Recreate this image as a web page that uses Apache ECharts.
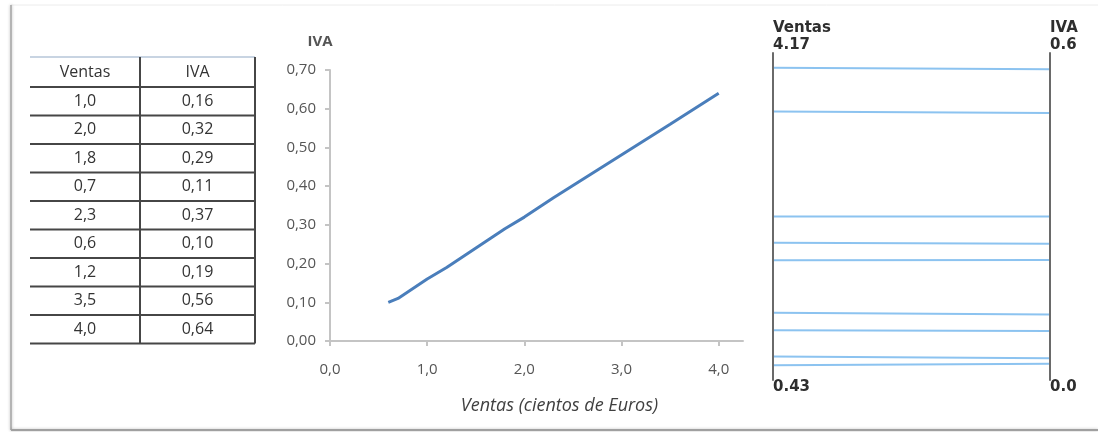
<!DOCTYPE html>
<html>
<head>
<meta charset="utf-8">
<script src="https://cdn.jsdelivr.net/npm/echarts@6/dist/echarts.min.js"></script>
<style>
  html, body { margin: 0; padding: 0; background: #ffffff; }
  #main { width: 1098px; height: 432px; }
</style>
</head>
<body>
<div id="main"></div>
<script>
// Sales (hundreds of euros) and the VAT charged on each sale
const ventas = [1.0, 2.0, 1.8, 0.7, 2.3, 0.6, 1.2, 3.5, 4.0];
const iva = [0.16, 0.32, 0.29, 0.11, 0.37, 0.10, 0.19, 0.56, 0.64];
const columnHeaders = ['Ventas', 'IVA'];
const xTickValues = [0, 1, 2, 3, 4];
const yAxisTitle = 'IVA';
const xAxisTitle = 'Ventas (cientos de Euros)';
const parallelNames = ['Ventas', 'IVA'];

const comma = (v, d) => v.toFixed(d).replace('.', ',');

// ---- table geometry ----
const TBL = { left: 30, mid: 140, right: 255, top: 57, headH: 30, rowH: 28.5 };
const TEXT_FONT = '"Open Sans", "Liberation Sans", sans-serif';
const LABEL_COLOR = '#555555';

function tableGraphics() {
  const els = [];
  const colCenter = [(TBL.left + TBL.mid) / 2, (TBL.mid + TBL.right) / 2];
  const bottom = TBL.top + TBL.headH + ventas.length * TBL.rowH;
  const text = (x, y, s) => ({
    type: 'text', x, y,
    style: { text: s, fill: '#333333', font: '16px ' + TEXT_FONT, align: 'center', verticalAlign: 'middle' }
  });
  const hline = (y, color, w) => ({
    type: 'line', shape: { x1: TBL.left, y1: y, x2: TBL.right, y2: y },
    style: { stroke: color, lineWidth: w }
  });
  // header
  els.push(hline(TBL.top, '#c8d4e2', 2));
  columnHeaders.forEach((h, c) => els.push(text(colCenter[c], TBL.top + TBL.headH / 2, h)));
  // body rows
  ventas.forEach((v, i) => {
    const yTop = TBL.top + TBL.headH + i * TBL.rowH;
    els.push(hline(yTop, '#464646', 2));
    els.push(text(colCenter[0], yTop + TBL.rowH / 2, comma(v, 1)));
    els.push(text(colCenter[1], yTop + TBL.rowH / 2, comma(iva[i], 2)));
  });
  els.push(hline(bottom, '#464646', 2));
  // vertical rules
  [TBL.mid, TBL.right].forEach(x => els.push({
    type: 'line', shape: { x1: x, y1: TBL.top, x2: x, y2: bottom },
    style: { stroke: '#464646', lineWidth: 2 }
  }));
  return els;
}

// page frame with a soft edge on the left and bottom
const frame = [
  { type: 'line', shape: { x1: 11, y1: 5, x2: 1098, y2: 5 }, style: { stroke: '#ececec', lineWidth: 1 } },
  { type: 'line', shape: { x1: 11, y1: 5, x2: 11, y2: 430 }, style: { stroke: '#b4b4b4', lineWidth: 2, shadowBlur: 3, shadowColor: 'rgba(0,0,0,0.25)' } },
  { type: 'line', shape: { x1: 11, y1: 430, x2: 1098, y2: 430 }, style: { stroke: '#a0a0a0', lineWidth: 2, shadowBlur: 3, shadowColor: 'rgba(0,0,0,0.25)' } }
];

// scatter line: points ordered by sales
const order = ventas.map((v, i) => i).sort((a, b) => ventas[a] - ventas[b]);
const linePoints = order.map(i => [ventas[i], iva[i]]);

// parallel axes span the data range plus 5% on each end
function paddedRange(arr) {
  const lo = Math.min(...arr), hi = Math.max(...arr);
  const pad = (hi - lo) * 0.05;
  return [+(lo - pad).toFixed(2), +(hi + pad).toFixed(2)];
}
const ventasRange = paddedRange(ventas);
const ivaRange = paddedRange(iva);

const PAR_FONT = '"DejaVu Sans", sans-serif';
function parallelAxis(dim, name, range, labelWidth) {
  return {
    dim, name, min: range[0], max: range[1],
    nameLocation: 'end', nameGap: 17,
    nameTextStyle: { color: '#2e2e2e', fontFamily: PAR_FONT, fontWeight: 'bold', fontSize: 15, align: 'left', verticalAlign: 'bottom' },
    axisLine: { lineStyle: { color: '#6a6a6a', width: 2 } },
    axisTick: { show: false },
    splitLine: { show: false },
    axisLabel: {
      customValues: range,
      formatter: v => v.toFixed(2),
      color: '#2e2e2e', fontFamily: PAR_FONT, fontWeight: 'bold', fontSize: 15,
      margin: 0, align: 'left',
      verticalAlignMinLabel: 'top', verticalAlignMaxLabel: 'bottom',
      width: labelWidth, overflow: labelWidth ? 'truncate' : 'none', ellipsis: ''
    }
  };
}

const chart = echarts.init(document.getElementById('main'), null, { renderer: 'canvas' });
chart.setOption({
  animation: false,
  backgroundColor: '#ffffff',
  graphic: frame.concat(tableGraphics()),
  grid: { left: 330, right: 355, top: 70, bottom: 91 },
  xAxis: {
    type: 'value', min: 0, max: 4.25,
    name: xAxisTitle, nameLocation: 'middle', nameGap: 56,
    nameTextStyle: { color: '#404040', fontFamily: TEXT_FONT, fontStyle: 'italic', fontSize: 18, verticalAlign: 'top', padding: [0, 0, 0, 46] },
    axisLine: { lineStyle: { color: '#c4c4c4', width: 2 } },
    axisTick: { customValues: xTickValues, length: 5, lineStyle: { color: '#c4c4c4', width: 2 } },
    axisLabel: { customValues: xTickValues, formatter: v => comma(v, 1), color: LABEL_COLOR, fontFamily: TEXT_FONT, fontSize: 15, margin: 21 },
    splitLine: { show: false }
  },
  yAxis: {
    type: 'value', min: 0, max: 0.7, interval: 0.1,
    name: yAxisTitle, nameLocation: 'end', nameGap: 21,
    nameTextStyle: { color: LABEL_COLOR, fontFamily: TEXT_FONT, fontWeight: 'bold', fontSize: 15, align: 'center', verticalAlign: 'bottom', padding: [0, 20, 0, 0] },
    axisLine: { show: true, lineStyle: { color: '#c4c4c4', width: 2 } },
    axisTick: { show: true, length: 5, lineStyle: { color: '#c4c4c4', width: 2 } },
    axisLabel: { formatter: v => comma(v, 2), color: LABEL_COLOR, fontFamily: TEXT_FONT, fontSize: 15, margin: 14 },
    splitLine: { show: false }
  },
  parallel: { left: 773, right: 48, top: 53, bottom: 52, layout: 'horizontal' },
  parallelAxis: [
    parallelAxis(0, parallelNames[0], ventasRange, 0),
    parallelAxis(1, parallelNames[1], ivaRange, 32)
  ],
  series: [
    {
      type: 'line',
      data: linePoints,
      showSymbol: false,
      lineStyle: { color: '#4a7ebb', width: 3 },
      itemStyle: { color: '#4a7ebb' }
    },
    {
      type: 'parallel',
      data: ventas.map((v, i) => [v, iva[i]]),
      lineStyle: { color: '#8cc3f0', width: 2, opacity: 1 },
      smooth: false
    }
  ]
});
</script>
</body>
</html>
